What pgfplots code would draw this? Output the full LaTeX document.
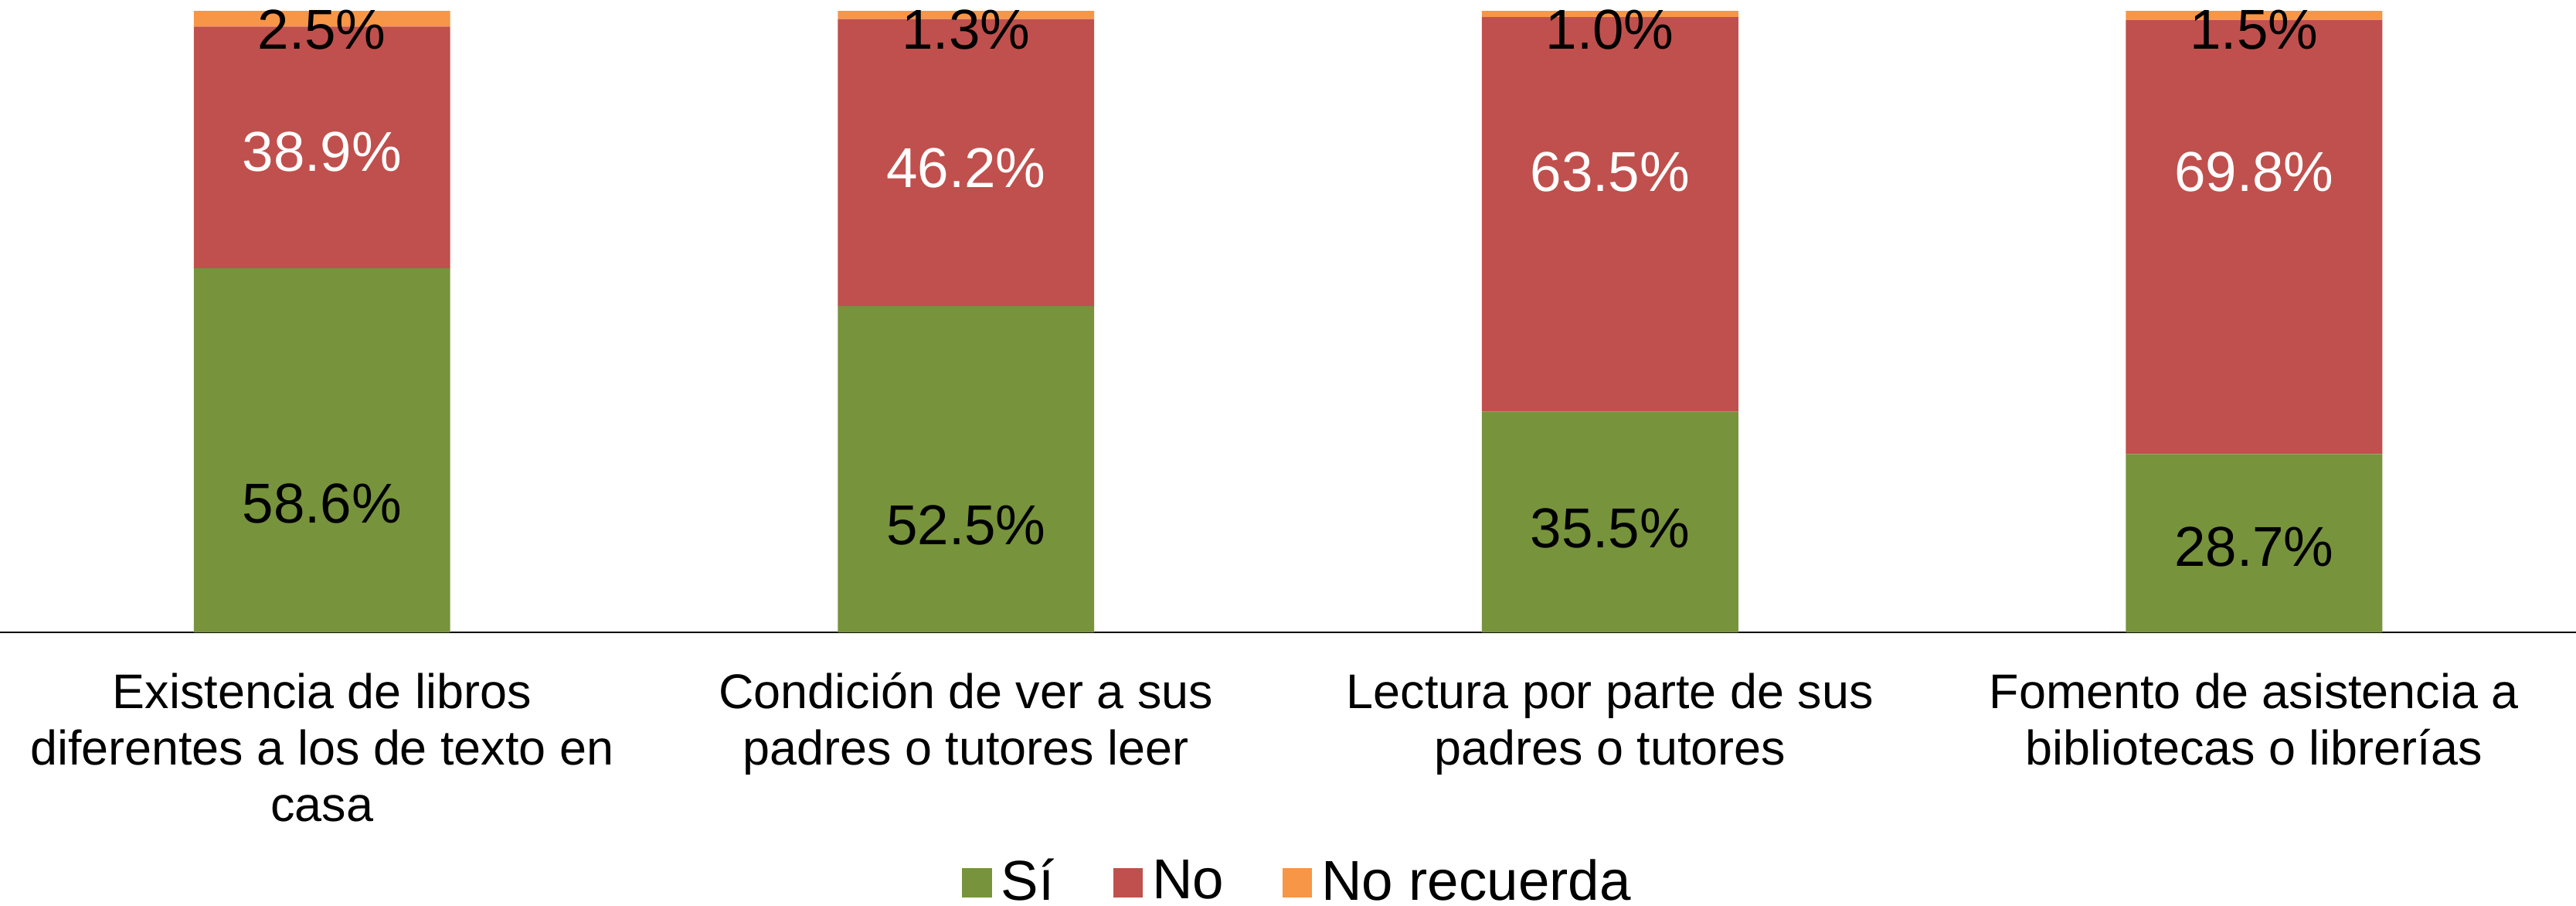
\documentclass[border=0pt]{standalone}
\usepackage{fontspec}
\setmainfont{Liberation Sans}
\usepackage{pgfplots}
\pgfplotsset{compat=1.18}
\usepackage{pgfplotstable}
\definecolor{cSi}{HTML}{77933C}
\definecolor{cNo}{HTML}{C0504D}
\definecolor{cNR}{HTML}{F79646}

% porcentajes por pregunta; *ly = altura de la etiqueta (en %)
\pgfplotstableread{
x  si    no    nr   sily  noly  nrly
0  58.6  38.9  2.5  20.7  77.3  97.0
1  52.5  46.2  1.3  17.3  74.7  97.0
2  35.5  63.5  1.0  16.7  74.1  97.0
3  28.7  69.8  1.5  13.8  74.1  97.0
}\datos

\pgfplotsset{sq/.style={legend image code/.code={\fill[##1] (0pt,-3.1pt) rectangle (6.2pt,3.1pt);}}}
\newcommand\lab{\pgfmathprintnumber[fixed,fixed zerofill,precision=1]{\pgfplotspointmeta}\%}

\begin{document}
\begin{tikzpicture}
\begin{axis}[
  ybar stacked,
  scale only axis,
  width=540.8pt, height=130.4pt,
  bar width=53.85pt,
  xmin=-0.5, xmax=3.5,
  ymin=0, ymax=100,
  axis x line*=bottom,
  axis y line=none,
  axis line style={black, line width=0.35pt},
  xtick={0,1,2,3},
  xticklabels={
    {\rule{0pt}{9pt}Existencia de libros\\diferentes a los de texto en\\casa},
    {\rule{0pt}{9pt}Condición de ver a sus\\padres o tutores leer},
    {\rule{0pt}{9pt}Lectura por parte de sus\\padres o tutores},
    {\rule{0pt}{9pt}Fomento de asistencia a\\bibliotecas o librerías}},
  major tick length=0pt,
  xticklabel style={align=center, font=\fontsize{10.2}{11.84}\selectfont, inner sep=0pt, anchor=north, yshift=-6.7pt},
  ytick=\empty,
  clip=false,
  point meta=explicit,
  nodes near coords=\lab,
  /pgf/number format/assume math mode=true,
  every node near coord/.append style={font=\fontsize{11.8}{14}\selectfont, anchor=center, inner sep=0pt, shift={(axis direction cs:0,\dy)}},
  legend columns=-1,
  legend style={draw=none, fill=none, at={(0.5,0)}, anchor=center, yshift=-52.6pt, xshift=2.8pt,
    font=\fontsize{11.8}{14}\selectfont,
    /tikz/every even column/.append style={column sep=10.3pt}},
]
% las etiquetas de barras apiladas quedan en el centro del tramo; se corrigen a sily/noly/nrly
\addplot[fill=cSi, draw=none, sq, every node near coord/.append style={text=black},
  visualization depends on={\thisrow{sily}-0.5*\thisrow{si} \as \dy}]
  table[x=x, y=si, meta=si] {\datos};
\addplot[fill=cNo, draw=none, sq, every node near coord/.append style={text=white},
  visualization depends on={\thisrow{noly}-\thisrow{si}-0.5*\thisrow{no} \as \dy}]
  table[x=x, y=no, meta=no] {\datos};
\addplot[fill=cNR, draw=none, sq, every node near coord/.append style={text=black},
  visualization depends on={\thisrow{nrly}-\thisrow{si}-\thisrow{no}-0.5*\thisrow{nr} \as \dy}]
  table[x=x, y=nr, meta=nr] {\datos};
\legend{Sí, No, No recuerda}
\coordinate (o) at (rel axis cs:0,0);
\end{axis}
\pgfresetboundingbox
\path[use as bounding box] (o) ++(0pt,-57.4pt) rectangle ++(540.8pt,190.1pt);
\end{tikzpicture}
\end{document}
